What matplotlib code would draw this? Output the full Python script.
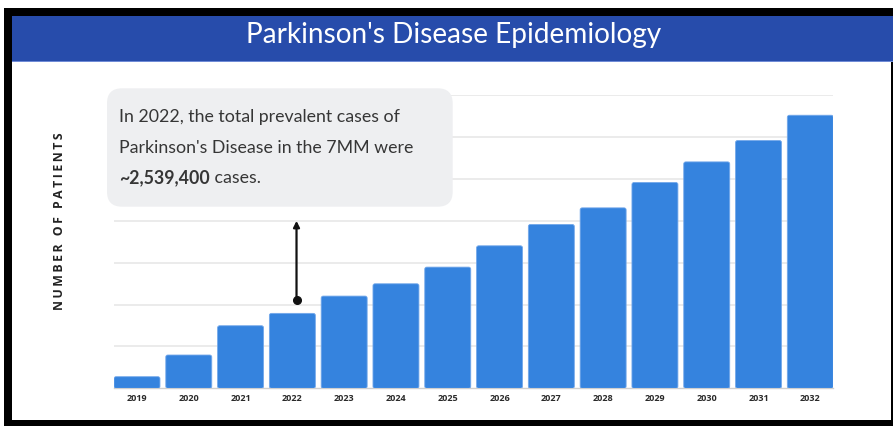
import matplotlib
matplotlib.use("Agg")
import matplotlib.pyplot as plt
from matplotlib.patches import Rectangle, FancyBboxPatch
from matplotlib.transforms import IdentityTransform

# data (thousands of patients)
years = ['2019', '2020', '2021', '2022', '2023', '2024', '2025',
         '2026', '2027', '2028', '2029', '2030', '2031', '2032']
patients = [393, 1128, 2120, 2539.4, 3125, 3542, 4107,
            4829, 5553, 6115, 6975, 7673, 8397, 9254]
grid_step = 1420
title = "Parkinson's Disease Epidemiology"
note_lines = ["In 2022, the total prevalent cases of",
              "Parkinson's Disease in the 7MM were"]
note_bold = "~2,539,400"
note_tail = " cases."
ylabel = "NUMBER OF PATIENTS"

W, H = 895, 426
fig = plt.figure(figsize=(W / 100, H / 100), dpi=100)
fig.patch.set_facecolor('white')
px = IdentityTransform()


def fx(x):
    return x / W


def fy(y):
    return 1 - y / H


# frame + header band (image pixel coords, y from top)
def box(x0, y0, x1, y1, color, z=0):
    fig.patches.append(Rectangle((x0, H - y1), x1 - x0, y1 - y0, transform=px,
                                 facecolor=color, edgecolor='none', zorder=z))


box(4, 8, 893, 16, 'black')
box(4, 8, 12, 426, 'black')
box(4, 420, 893, 426, 'black')
box(891, 8, 893, 426, 'black')
box(12, 16, 893, 61, '#274cab')
box(12, 60.5, 893, 62, '#6f8bd6')

fig.text(fx(453.5), fy(35), title, color='white', fontsize=20.2,
         family='Lato', ha='center', va='center')

# bar chart
ax = fig.add_axes([fx(114), fy(388.3), fx(833.3) - fx(114), fy(95) - fy(388.3)])
bw = 0.8875
xs = list(range(len(years)))
bars = ax.bar(xs, patients, width=bw, color='#3583de', zorder=3)
rx = 0.04
ry = 2 * grid_step * 7 / 293.3
for b in list(bars):
    fb = FancyBboxPatch((b.get_x(), b.get_y()), b.get_width(), b.get_height(),
                        boxstyle='round,pad=0,rounding_size=%f' % rx,
                        mutation_aspect=ry / rx, facecolor='#3583de',
                        edgecolor='#73a8ea', linewidth=0.6, zorder=3)
    ax.add_patch(fb)
    b.remove()

ax.set_xlim(-bw / 2, len(years) - 1 + bw / 2)
ax.set_ylim(0, grid_step * 7)
ax.set_yticks([grid_step * i for i in range(1, 8)])
ax.yaxis.grid(True, color='#e6e6e6', linewidth=1.1, zorder=0)
ax.set_axisbelow(True)
ax.tick_params(axis='y', left=False, labelleft=False)
ax.set_xticks(xs)
ax.set_xticklabels(years, fontsize=6.5, fontweight='bold', color='#2a2a2a',
                   family='Open Sans')
ax.tick_params(axis='x', length=0, pad=4)
for s in ['left', 'right', 'top']:
    ax.spines[s].set_visible(False)
ax.spines['bottom'].set_color('#cfcfcf')
ax.spines['bottom'].set_linewidth(1.0)
ax.patch.set_alpha(0)

# arrow from the 2022 bar up to the note
ax.annotate('', xy=(3.08, 0.571), xytext=(3.08, 0.301),
            xycoords=('data', 'axes fraction'),
            arrowprops=dict(arrowstyle='-|>', color='#111111', lw=1.6,
                            mutation_scale=9, shrinkA=0, shrinkB=0), zorder=5)
ax.plot([3.08], [0.301], marker='o', markersize=5.5, color='#111111',
        transform=ax.get_xaxis_transform(), zorder=6)

# note box
fig.patches.append(FancyBboxPatch((107 + 15, H - 206.7 + 15), 345.7 - 30, 118.4 - 30,
                                  boxstyle='round,pad=15', transform=px,
                                  facecolor='#eeeff1', edgecolor='none', zorder=5))
tc = '#363636'
fs = 12.8
fig.text(fx(119.3), fy(121.7), note_lines[0], fontsize=fs, family='Lato',
         color=tc, va='baseline', zorder=6)
fig.text(fx(119.3), fy(153), note_lines[1], fontsize=fs, family='Lato',
         color=tc, va='baseline', zorder=6)
tb = fig.text(fx(119.3), fy(183), note_bold, fontsize=fs, family='Lato',
              fontweight='bold', color=tc, va='baseline', zorder=6)
fig.canvas.draw()
ext = tb.get_window_extent()
fig.text(ext.x1 / W, fy(183), note_tail, fontsize=fs, family='Lato',
         color=tc, va='baseline', zorder=6)

# spaced y label
fig.text(fx(60), fy(221.5), '\u2009'.join(ylabel), rotation=90, fontsize=8.8,
         fontweight='bold', color='#222222', family=['Open Sans', 'DejaVu Sans'],
         ha='center', va='center')

fig.savefig('out.png', dpi=100)
